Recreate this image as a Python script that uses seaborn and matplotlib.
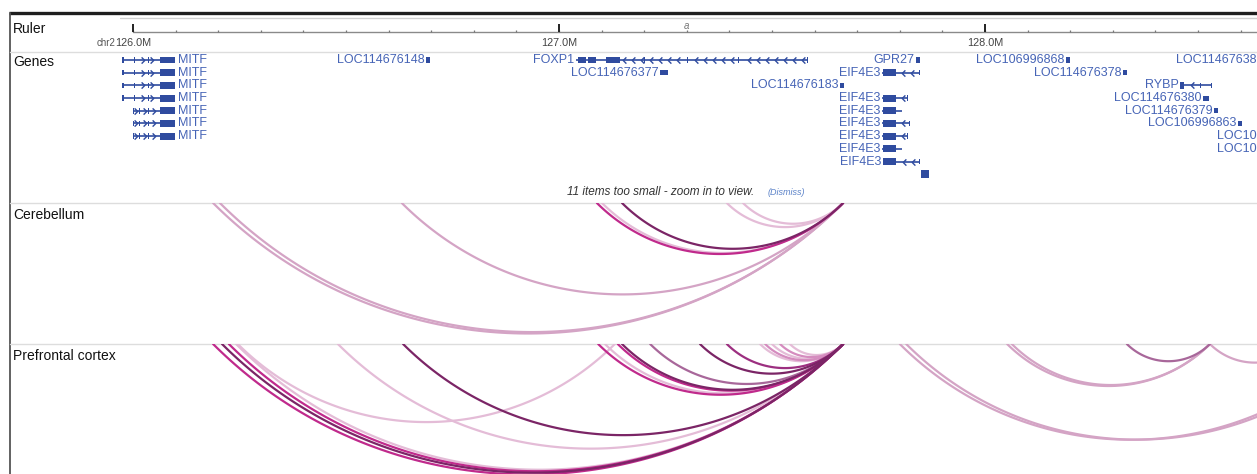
import numpy as np
import pandas as pd
import matplotlib
matplotlib.use("Agg")
import matplotlib.pyplot as plt
from matplotlib.patches import Rectangle
from matplotlib.path import Path
import seaborn as sns

sns.set_theme(style="white")
plt.rcParams["font.family"] = ["Liberation Sans", "DejaVu Sans"]

# ---------------------------------------------------------------- data ----
# genomic window shown (Mb on chr2)
view_start, view_end = 125.9695, 128.6385

# ruler
ruler_major = [126.0, 127.0, 128.0]
ruler_labels = ["126.0M", "127.0M", "128.0M"]
ruler_minor = np.round(np.arange(126.0, 128.65, 0.1), 1)

# gene models: name, row, start, end, strand, label side
gene_names = ["MITF", "MITF", "MITF", "MITF", "MITF", "MITF", "MITF",
              "LOC114676148", "FOXP1", "GPR27", "LOC106996868",
              "LOC114676377", "EIF4E3", "LOC114676378",
              "LOC114676183", "RYBP",
              "EIF4E3", "LOC114676380",
              "EIF4E3", "LOC114676379",
              "EIF4E3", "LOC106996863",
              "EIF4E3", "EIF4E3", "EIF4E3", ""]
gene_rows = [0, 1, 2, 3, 4, 5, 6,
             0, 0, 0, 0,
             1, 1, 1,
             2, 2,
             3, 3,
             4, 4,
             5, 5,
             6, 7, 8, 9]
gene_starts = [125.974, 125.974, 125.974, 125.974, 126.000, 126.000, 126.000,
               126.688, 127.040, 127.838, 128.190,
               127.237, 127.758, 128.324,
               127.660, 128.458,
               127.758, 128.512,
               127.758, 128.538,
               127.758, 128.594,
               127.758, 127.758, 127.761, 127.850]
gene_ends = [126.099, 126.099, 126.099, 126.099, 126.099, 126.099, 126.099,
             126.697, 127.585, 127.847, 128.200,
             127.256, 127.847, 128.333,
             127.669, 128.533,
             127.819, 128.526,
             127.805, 128.547,
             127.824, 128.603,
             127.819, 127.805, 127.847, 127.869]
gene_strands = ["+"] * 7 + ["+", "-", "+", "+",
                            "+", "-", "+",
                            "+", "-",
                            "-", "-",
                            "-", "+",
                            "-", "+",
                            "-", "-", "-", "+"]
gene_label_side = ["R"] * 7 + ["L"] * 19

# coding exons (thick) per gene; empty -> whole gene drawn as a block
mitf_long = [(125.974, 125.978), (126.002, 126.005), (126.035, 126.038), (126.063, 126.099)]
mitf_short = [(126.000, 126.003), (126.014, 126.017), (126.035, 126.038), (126.063, 126.099)]
foxp1_exons = [(127.045, 127.064), (127.068, 127.086), (127.110, 127.143),
               (127.200, 127.203), (127.300, 127.303), (127.420, 127.423),
               (127.582, 127.585)]
eif4e3_exons = [(127.760, 127.790)]
gene_exons = [mitf_long] * 4 + [mitf_short] * 3 + [
    [], foxp1_exons, [], [],
    [], eif4e3_exons + [(127.844, 127.847)], [],
    [], [(128.458, 128.467), (128.505, 128.508), (128.530, 128.533)],
    eif4e3_exons + [(127.816, 127.819)], [],
    eif4e3_exons, [],
    eif4e3_exons + [(127.821, 127.824)], [],
    eif4e3_exons + [(127.816, 127.819)], eif4e3_exons, eif4e3_exons + [(127.844, 127.847)],
    []]

# labels of genes lying past the right edge of the window
edge_labels = ["LOC11467638", "LOC10", "LOC10"]
edge_label_rows = [0, 6, 7]

# chromatin interactions (anchor start, anchor end, strength class)
cereb_start = [126.188, 126.204, 126.631, 127.089, 127.101, 127.148, 127.394, 127.432]
cereb_end = [127.667, 127.667, 127.667, 127.667, 127.667, 127.667, 127.667, 127.667]
cereb_tone = ["mauve", "mauve", "mauve", "magenta", "pink", "purple", "pink", "pink"]

pfc_start = [126.188, 126.209, 126.225, 126.242, 126.246, 126.481, 126.634,
             127.092, 127.108, 127.138, 127.148, 127.214, 127.331, 127.394,
             127.472, 127.484, 127.500, 127.519, 127.542,
             127.800, 127.815, 128.052, 128.063, 128.333, 128.528]
pfc_end = [127.667, 127.667, 127.667, 127.667, 127.131, 127.667, 127.667,
           127.667, 127.667, 127.667, 127.667, 127.667, 127.667, 127.667,
           127.667, 127.667, 127.667, 127.667, 127.667,
           128.885, 128.899, 128.528, 128.528, 128.528, 128.739]
pfc_tone = ["magenta", "purple", "magenta", "pink", "pink", "pink", "purple",
            "magenta", "pink", "magenta", "purple", "plum", "purple", "berry",
            "pink", "rose", "pink", "rose", "pink",
            "mauve", "mauve", "mauve", "mauve", "plum", "mauve"]

tone_colors = {"pink": "#e4bcd7", "mauve": "#d4a4c5", "rose": "#d58cbf",
               "plum": "#a8679a", "magenta": "#c02a8c", "berry": "#9c2f80",
               "purple": "#7b2566"}
tone_order = ["pink", "mauve", "rose", "plum", "magenta", "berry", "purple"]

# --------------------------------------------------------------- layout ---
W, H = 1257, 474
fig = plt.figure(figsize=(W / 100, H / 100), dpi=100)


def box(top, bottom, left=120, right=W):
    return [left / W, 1 - bottom / H, (right - left) / W, (bottom - top) / H]


frame = fig.add_axes([0, 0, 1, 1])
frame.set_xlim(0, W)
frame.set_ylim(H, 0)
frame.axis("off")

# outer frame and track separators
frame.plot([9, W], [13, 13], color="#1e1e1e", lw=2.4, solid_capstyle="butt")
frame.plot([10, 10], [13, H], color="#555555", lw=1.3)
for yy in (52, 202.5, 343.5):
    frame.plot([10, W], [yy, yy], color="#dddddd", lw=1.0)

for name, yy in [("Ruler", 29), ("Genes", 62), ("Cerebellum", 215), ("Prefrontal cortex", 356)]:
    frame.text(13, yy, name, fontsize=10, color="#111111", va="center", ha="left")

frame.text(567, 192, "11 items too small - zoom in to view.", fontsize=8.5,
           style="italic", color="#333333", va="center", ha="left")
frame.text(768, 192.5, "(Dismiss)", fontsize=6.5, style="italic",
           color="#5b82c8", va="center", ha="left")

# ---------------------------------------------------------------- ruler ---
rax = fig.add_axes(box(13, 52))
rax.set_xlim(view_start, view_end)
rax.set_ylim(52, 13)
rax.axis("off")
rax.patch.set_visible(False)
rax.plot([view_start, view_end], [18, 18], color="#cfcfcf", lw=1.0)
rax.plot([view_start + 0.03, view_end], [32, 32], color="#8a8a8a", lw=1.0)
rax.vlines(ruler_minor, 29.5, 32, color="#777777", lw=0.9)
rax.vlines(ruler_major, 24, 32, color="#222222", lw=1.4)
for pos, lab in zip(ruler_major, ruler_labels):
    rax.text(pos, 43, lab, fontsize=7.8, color="#444444", ha="center", va="center")
rax.text(ruler_major[0] - 0.040, 43.5, "chr2", fontsize=7, color="#555555",
         ha="right", va="center")
rax.text(127.30, 26, "a", fontsize=7, style="italic", color="#777777",
         ha="center", va="center")

# ---------------------------------------------------------------- genes ---
ROW0, ROWH = 60.0, 12.7
gax = fig.add_axes(box(52, 202))
gax.set_xlim(view_start, view_end)
gax.set_ylim((202 - ROW0) / ROWH, (52 - ROW0) / ROWH)
gax.axis("off")
gax.patch.set_visible(False)

glyph = "#2f4b9f"
label_col = "#4664b6"
chev_r = Path([(-0.6, 1.0), (0.4, 0.0), (-0.6, -1.0)],
              [Path.MOVETO, Path.LINETO, Path.LINETO])
chev_l = Path([(0.6, 1.0), (-0.4, 0.0), (0.6, -1.0)],
              [Path.MOVETO, Path.LINETO, Path.LINETO])

for name, row, s, e, strand, side, exons in zip(gene_names, gene_rows, gene_starts,
                                                 gene_ends, gene_strands,
                                                 gene_label_side, gene_exons):
    if name == "":
        gax.add_patch(Rectangle((s, row - 0.33), e - s, 0.66, color=glyph, lw=0))
        continue
    if not exons:
        gax.add_patch(Rectangle((s, row - 0.2), e - s, 0.4, color=glyph, lw=0))
    else:
        gax.plot([s, e], [row, row], color=glyph, lw=1.2, solid_capstyle="butt")
        for a, b in exons:
            thick = (b - a) > 0.006
            hh = 0.27 if thick else 0.22
            gax.add_patch(Rectangle((a, row - hh), b - a, 2 * hh, color=glyph, lw=0))
        # strand chevrons along the introns
        marks = np.arange(s + 0.008, e - 0.004, 0.021)
        marks = [m for m in marks if all(not (a - 0.004 <= m <= b + 0.004) for a, b in exons)]
        if marks:
            gax.plot(marks, [row] * len(marks), ls="none",
                     marker=chev_r if strand == "+" else chev_l,
                     markersize=4.5, markerfacecolor="none",
                     markeredgecolor=glyph, markeredgewidth=1.0)
    if side == "L":
        gax.text(s - 0.004, row, name, fontsize=9, color=label_col,
                 ha="right", va="center", clip_on=True)
    else:
        gax.text(e + 0.006, row, name, fontsize=9, color=label_col,
                 ha="left", va="center", clip_on=True)

for lab, row in zip(edge_labels, edge_label_rows):
    gax.text(view_end - 0.001, row, lab, fontsize=9, color=label_col,
             ha="right", va="center")


# ---------------------------------------------------------------- arcs ----
def arc_frame(starts, ends, tones, n=120):
    rows = []
    for i, (a, b, t) in enumerate(zip(starts, ends, tones)):
        cx, h = (a + b) / 2, (b - a) / 2
        r = h * np.sqrt(2)
        th = np.linspace(-np.pi / 4, np.pi / 4, n)
        for x, y in zip(cx + r * np.sin(th), -h + r * np.cos(th)):
            rows.append((i, x, y, t))
    return pd.DataFrame(rows, columns=["arc", "pos", "depth", "tone"])


PX_PER_MB = 426.0
for (top, bottom), starts, ends, tones in [((203, 343), cereb_start, cereb_end, cereb_tone),
                                           ((344, 474), pfc_start, pfc_end, pfc_tone)]:
    ax = fig.add_axes(box(top, bottom))
    ax.set_xlim(view_start, view_end)
    ax.set_ylim((bottom - top) / PX_PER_MB, 0)
    df = arc_frame(starts, ends, tones)
    order = [t for t in tone_order if t in set(tones)]
    sns.lineplot(data=df, x="pos", y="depth", hue="tone", hue_order=order,
                 units="arc", estimator=None, sort=False, palette=tone_colors,
                 legend=False, linewidth=1.6, ax=ax)
    ax.axis("off")
    ax.patch.set_visible(False)

fig.savefig("out.png", dpi=100)
